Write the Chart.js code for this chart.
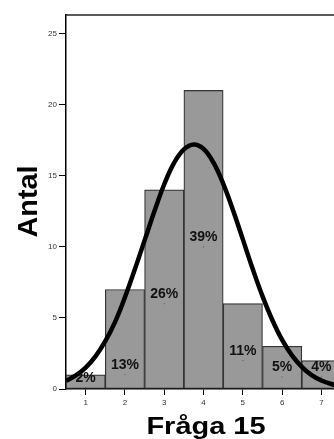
<!DOCTYPE html>
<html>
<head>
<meta charset="utf-8">
<script src="https://cdn.jsdelivr.net/npm/chart.js@4.4.1/dist/chart.umd.min.js"></script>
<style>
  html, body { margin: 0; padding: 0; background: #fff; }
  #wrap { width: 334px; height: 439px; position: relative; }
</style>
</head>
<body>
<div id="wrap"><canvas id="chart"></canvas></div>
<script>
const categories = [1, 2, 3, 4, 5, 6, 7];
const counts = [1, 7, 14, 21, 6, 3, 2];
const percentLabels = ["2%", "13%", "26%", "39%", "11%", "5%", "4%"];
const labelAnchors = [0.1, 1, 6, 10, 2, 0.85, 0.85];

// normal curve
const curveX = [0.5, 0.75, 1, 1.25, 1.5, 1.75, 2, 2.25, 2.5, 2.75, 3, 3.25, 3.5, 3.75,
                4, 4.25, 4.5, 4.75, 5, 5.25, 5.5, 5.75, 6, 6.25, 6.5, 6.75, 7, 7.25, 7.5];
const curveY = [0.57, 0.95, 1.5, 2.29, 3.36, 4.72, 6.45, 8.4, 10.45, 12.5, 14.4, 15.9, 16.85, 17.2,
                16.89, 15.93, 14.44, 12.57, 10.52, 8.45, 6.53, 4.85, 3.45, 2.37, 1.56, 0.98, 0.6, 0.35, 0.19];

const xTicks = [1, 2, 3, 4, 5, 6, 7];
const yTicks = [0, 5, 10, 15, 20, 25];

const xTitle = "Fråga 15";
const yTitle = "Antal";

const FONT = "Arial, 'Liberation Sans', sans-serif";

const decor = {
    id: "decor",
    afterDatasetsDraw(chart) {
        const ctx = chart.ctx;
        const xs = chart.scales.x;
        const ys = chart.scales.y;
        ctx.save();
        ctx.font = "bold 14px " + FONT;
        ctx.textAlign = "center";
        ctx.textBaseline = "middle";
        percentLabels.forEach((t, i) => {
            const px = xs.getPixelForValue(categories[i]);
            const py = ys.getPixelForValue(labelAnchors[i]);
            ctx.fillStyle = "#111";
            ctx.fillText(t, px, py - 9.5);
            ctx.fillStyle = "#555";
            ctx.fillRect(px - 0.5, py - 0.5, 1, 1);
        });
        ctx.restore();
    },
    afterDraw(chart) {
        const ctx = chart.ctx;
        const a = chart.chartArea;
        ctx.save();
        // top frame line
        ctx.strokeStyle = "#222";
        ctx.lineWidth = 1.5;
        ctx.beginPath();
        ctx.moveTo(a.left, a.top);
        ctx.lineTo(a.right, a.top);
        ctx.stroke();

        ctx.fillStyle = "#000";
        ctx.font = "bold 23px " + FONT;
        ctx.textAlign = "center";
        ctx.textBaseline = "alphabetic";
        ctx.translate(206, 434);
        ctx.scale(1.26, 1);
        ctx.fillText(xTitle, 0, 0);
        ctx.restore();

        ctx.save();
        ctx.fillStyle = "#000";
        ctx.font = "bold 27px " + FONT;
        ctx.textAlign = "center";
        ctx.textBaseline = "alphabetic";
        ctx.translate(36.5, 201.5);
        ctx.rotate(-Math.PI / 2);
        ctx.scale(1.07, 1);
        ctx.fillText(yTitle, 0, 0);
        ctx.restore();
    }
};

new Chart(document.getElementById("chart"), {
    type: "bar",
    data: {
        datasets: [
            {
                type: "line",
                data: curveX.map((x, i) => ({ x: x, y: curveY[i] })),
                borderColor: "#000",
                borderWidth: 4.5,
                pointRadius: 0,
                tension: 0.4,
                fill: false,
                order: 0
            },
            {
                type: "bar",
                data: categories.map((c, i) => ({ x: c, y: counts[i] })),
                backgroundColor: "#999999",
                borderColor: "#333",
                borderWidth: 1.2,
                borderSkipped: false,
                barPercentage: 1,
                categoryPercentage: 1,
                order: 1
            }
        ]
    },
    options: {
        responsive: true,
        maintainAspectRatio: false,
        animation: false,
        layout: { padding: { top: 15, left: 0, right: 0, bottom: 0 } },
        plugins: { legend: { display: false }, tooltip: { enabled: false } },
        scales: {
            x: {
                type: "linear",
                offset: false,
                min: 0.5,
                max: 7.32,
                afterBuildTicks: s => { s.ticks = xTicks.map(v => ({ value: v })); },
                afterFit: s => { s.height = 50; },
                grid: { offset: false, drawOnChartArea: false, drawTicks: true, tickLength: 6, color: "#000", tickWidth: 1 },
                border: { color: "#000", width: 1.5 },
                ticks: { font: { size: 8, family: FONT }, color: "#333", padding: 3, autoSkip: false, maxRotation: 0 }
            },
            y: {
                min: 0,
                max: 26.3,
                afterBuildTicks: s => { s.ticks = yTicks.map(v => ({ value: v })); },
                afterFit: s => { s.width = 66; },
                grid: { drawOnChartArea: false, drawTicks: true, tickLength: 7, color: "#000", tickWidth: 1 },
                border: { color: "#000", width: 1.5 },
                ticks: { font: { size: 8, family: FONT }, color: "#333", padding: 2 }
            }
        }
    },
    plugins: [decor]
});
</script>
</body>
</html>
